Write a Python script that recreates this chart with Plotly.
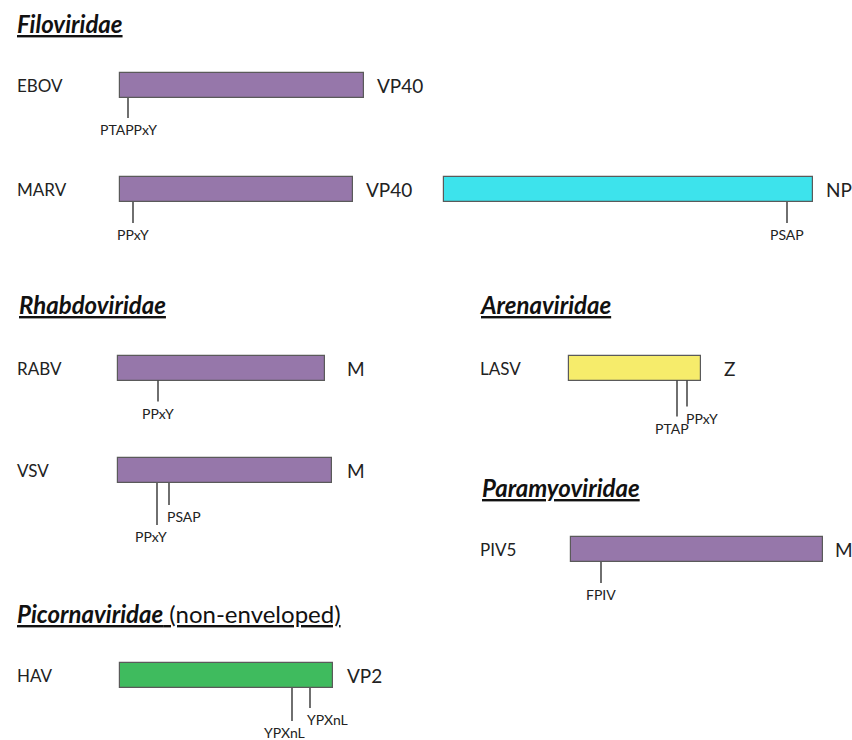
import plotly.graph_objects as go

# ---------------- data ----------------
families = ["Filoviridae", "Rhabdoviridae", "Arenaviridae", "Paramyoviridae", "Picornaviridae"]
family_notes = ["", "", "", "", " (non-enveloped)"]

viruses = ["EBOV", "MARV", "", "RABV", "VSV", "LASV", "PIV5", "HAV"]
proteins = ["VP40", "VP40", "NP", "M", "M", "Z", "M", "VP2"]
protein_lengths = [244, 233, 369, 207, 214, 132, 252, 213]
motif_positions = [[8], [13], [343], [40], [39, 51], [108, 118], [30], [172, 190]]
motif_names = [["PTAPPxY"], ["PPxY"], ["PSAP"], ["PPxY"], ["PPxY", "PSAP"],
               ["PTAP", "PPxY"], ["FPIV"], ["YPXnL", "YPXnL"]]

# ---------------- layout / style ----------------
W, H = 852, 740
FONT = "Lato, Open Sans, sans-serif"
purple, cyan, yellow, green = "#9677aa", "#3de3ec", "#f6ec6b", "#3fbb5e"
colors = [purple, purple, cyan, purple, purple, yellow, purple, green]
bar_start = [120, 120, 444, 118, 118, 569, 571, 120]
bar_y = [85.5, 189.5, 189.5, 368, 470.5, 368, 549.5, 675.5]
virus_x = [15, 15, None, 15, 15, 478, 478, 15]
protein_gap = [11, 11, 11, 20, 13, 21, 10, 12]
motif_line_len = [[20], [21], [21], [21], [42, 22], [36, 26], [21], [33, 20]]
motif_text_dx = [[0], [0], [0], [0], [-6, 15], [-5, 15], [0], [-8, 17]]
family_xy = [(15, 23), (17, 304), (478, 304), (480, 487), (15, 613)]
BAR_H = 25

fig = go.Figure()

for i in range(len(proteins)):
    fig.add_trace(go.Bar(
        orientation="h", y=[bar_y[i]], x=[protein_lengths[i]], base=[bar_start[i]],
        width=BAR_H, marker=dict(color=colors[i], line=dict(color="#5a5a5a", width=1.2)),
        showlegend=False, hoverinfo="skip"))

annotations = []
for i in range(len(proteins)):
    y0 = bar_y[i] + BAR_H / 2
    end = bar_start[i] + protein_lengths[i]
    annotations.append(dict(x=end + protein_gap[i], y=bar_y[i], text=proteins[i],
                            xanchor="left", yanchor="middle", showarrow=False,
                            font=dict(size=19, color="#222", family=FONT)))
    if viruses[i]:
        annotations.append(dict(x=virus_x[i], y=bar_y[i], text=viruses[i],
                                xanchor="left", yanchor="middle", showarrow=False,
                                font=dict(size=17, color="#222", family=FONT)))
    for j, pos in enumerate(motif_positions[i]):
        mx = bar_start[i] + pos
        y1 = y0 + motif_line_len[i][j]
        fig.add_trace(go.Scatter(x=[mx, mx], y=[y0, y1], mode="lines",
                                 line=dict(color="#333", width=1.4),
                                 showlegend=False, hoverinfo="skip"))
        annotations.append(dict(x=mx + motif_text_dx[i][j], y=y1 + 1, text=motif_names[i][j],
                                xanchor="center", yanchor="top", showarrow=False,
                                font=dict(size=14, color="#222", family=FONT)))

for k, fam in enumerate(families):
    txt = "<u><b><i>" + fam + "</i></b>" + family_notes[k] + "</u>"
    annotations.append(dict(x=family_xy[k][0], y=family_xy[k][1], text=txt,
                            xanchor="left", yanchor="middle", showarrow=False,
                            font=dict(size=24, color="#111", family=FONT)))

fig.update_layout(
    width=W, height=H, margin=dict(l=0, r=0, t=0, b=0),
    paper_bgcolor="white", plot_bgcolor="white",
    xaxis=dict(range=[0, W], visible=False, fixedrange=True),
    yaxis=dict(range=[H, 0], visible=False, fixedrange=True),
    annotations=annotations, barmode="overlay", bargap=0,
)

fig.write_html("out.html", config={"displayModeBar": False},
               post_script="document.body.style.margin='0';document.body.style.overflow='hidden';")
